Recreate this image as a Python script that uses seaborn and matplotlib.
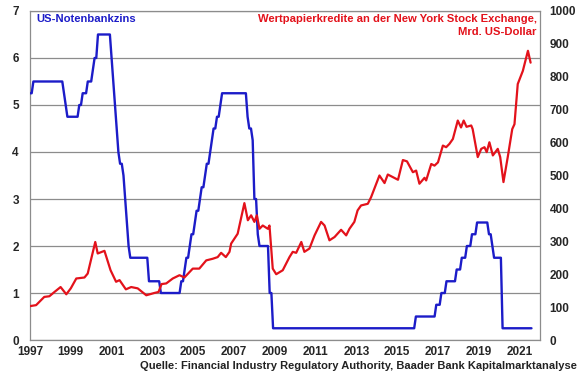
import numpy as np
import pandas as pd
import matplotlib
matplotlib.use("Agg")
import matplotlib.pyplot as plt
import seaborn as sns

# US Fed funds target (upper bound), month-end change points as decimal years
fed_dates = [1997.0, 1997.17, 1998.67, 1998.75, 1998.83, 1999.42, 1999.58, 1999.83,
             2000.08, 2000.17, 2000.33, 2001.0, 2001.08, 2001.17, 2001.25, 2001.33,
             2001.42, 2001.58, 2001.67, 2001.75, 2001.83, 2001.92, 2002.83, 2003.42,
             2004.42, 2004.58, 2004.67, 2004.83, 2004.92, 2005.08, 2005.17, 2005.33,
             2005.42, 2005.58, 2005.67, 2005.83, 2005.92, 2006.0, 2006.17, 2006.33,
             2006.42, 2007.67, 2007.75, 2007.92, 2008.0, 2008.17, 2008.25, 2008.75,
             2008.92, 2015.92, 2016.92, 2017.17, 2017.42, 2017.92, 2018.17, 2018.42,
             2018.67, 2018.92, 2019.5, 2019.67, 2019.75, 2020.17, 2021.58]
fed_rate = [5.25, 5.5, 5.25, 5.0, 4.75, 5.0, 5.25, 5.5,
            5.75, 6.0, 6.5, 6.0, 5.5, 5.0, 4.5, 4.0,
            3.75, 3.5, 3.0, 2.5, 2.0, 1.75, 1.25, 1.0,
            1.25, 1.5, 1.75, 2.0, 2.25, 2.5, 2.75, 3.0,
            3.25, 3.5, 3.75, 4.0, 4.25, 4.5, 4.75, 5.0,
            5.25, 4.75, 4.5, 4.25, 3.0, 2.25, 2.0, 1.0,
            0.25, 0.5, 0.75, 1.0, 1.25, 1.5, 1.75, 2.0,
            2.25, 2.5, 2.25, 2.0, 1.75, 0.25, 0.25]

# Margin debt at NYSE, bn USD
margin_dates = [1997.0, 1997.3, 1997.7, 1997.95, 1998.2, 1998.5, 1998.78, 1999.0,
                1999.27, 1999.67, 1999.83, 2000.2, 2000.32, 2000.65, 2000.95, 2001.22,
                2001.39, 2001.7, 2001.96, 2002.28, 2002.7, 2003.1, 2003.3, 2003.45,
                2003.68, 2004.0, 2004.33, 2004.57, 2004.98, 2005.3, 2005.64, 2005.96,
                2006.2, 2006.37, 2006.6, 2006.78, 2006.86, 2007.18, 2007.51, 2007.68,
                2007.84, 2008.0, 2008.12, 2008.25, 2008.41, 2008.66, 2008.74, 2008.9,
                2009.07, 2009.39, 2009.72, 2009.88, 2010.05, 2010.3, 2010.45, 2010.7,
                2010.95, 2011.27, 2011.44, 2011.68, 2011.93, 2012.25, 2012.5, 2012.66,
                2012.9, 2013.06, 2013.23, 2013.56, 2013.72, 2014.13, 2014.38, 2014.54,
                2014.79, 2015.04, 2015.28, 2015.48, 2015.77, 2015.93, 2016.09, 2016.34,
                2016.42, 2016.67, 2016.83, 2017.0, 2017.24, 2017.4, 2017.56, 2017.73,
                2017.97, 2018.13, 2018.26, 2018.4, 2018.63, 2018.7, 2018.95, 2019.12,
                2019.28, 2019.39, 2019.52, 2019.69, 2019.93, 2020.05, 2020.21, 2020.42,
                2020.64, 2020.75, 2020.91, 2021.16, 2021.41, 2021.54]
margin_debt = [103, 106, 131, 133, 146, 161, 139, 157,
               187, 190, 202, 298, 263, 271, 212, 177,
               182, 154, 161, 157, 136, 143, 146, 170,
               172, 187, 197, 190, 217, 217, 242, 247,
               252, 265, 252, 268, 293, 323, 416, 364,
               379, 359, 379, 338, 348, 338, 348, 217,
               200, 212, 252, 268, 265, 298, 268, 278,
               318, 359, 348, 303, 313, 335, 318, 338,
               359, 394, 409, 414, 434, 500, 477, 503,
               495, 487, 547, 543, 510, 515, 475, 493,
               485, 535, 530, 540, 591, 586, 596, 611,
               667, 646, 667, 648, 652, 641, 556, 581,
               586, 571, 601, 561, 581, 556, 480, 556,
               641, 656, 778, 818, 879, 843]

year_ticks = list(range(1997, 2022, 2))

# policy rate holds between changes -> monthly series
month_idx = np.rint((np.array(fed_dates) - 1997) * 12).astype(int)
fed_monthly = (pd.Series(fed_rate, index=month_idx)
               .groupby(level=0).last()
               .reindex(range(month_idx.max() + 1)).ffill())
fed = pd.DataFrame({'date': 1997 + fed_monthly.index / 12, 'rate': fed_monthly.values})

sns.set_style("white")
plt.rcParams['font.family'] = ['Liberation Sans', 'DejaVu Sans']
plt.rcParams['font.weight'] = 'bold'

blue = '#1c1cc8'
red = '#e3121b'
grey = '#8c8c8c'

fig = plt.figure(figsize=(5.8, 3.75), dpi=100)
ax = fig.add_axes([0.0517, 0.0933, 0.8793, 0.8774])

sns.lineplot(data=fed, x='date', y='rate', ax=ax, color=blue, linewidth=1.7,
             estimator=None, zorder=3)

ax.set_xlim(1997, 2022)
ax.set_ylim(0, 7)
ax.set_xticks(year_ticks)
ax.set_yticks(range(0, 8))
ax.yaxis.grid(True, color=grey, linewidth=0.9)
ax.xaxis.grid(False)
ax.set_xlabel('')
ax.set_ylabel('')
for s in ax.spines.values():
    s.set_color(grey)
    s.set_linewidth(0.9)
ax.tick_params(axis='x', direction='in', length=3, color=grey, labelsize=8.5, pad=4)
ax.tick_params(axis='y', length=0, labelsize=8.5, pad=8)

ax2 = ax.twinx()
margin = pd.DataFrame({'date': margin_dates, 'debt': margin_debt})
sns.lineplot(data=margin, x='date', y='debt', ax=ax2, color=red, linewidth=1.6,
             estimator=None)
ax2.set_ylim(0, 1000)
ax2.set_yticks(range(0, 1001, 100))
ax2.set_ylabel('')
ax2.tick_params(axis='y', length=0, labelsize=8.5, pad=7)
for s in ax2.spines.values():
    s.set_visible(False)

ax.text(0.013, 0.976, 'US-Notenbankzins', transform=ax.transAxes, color=blue,
        fontsize=8.1, fontweight='bold', ha='left', va='center')
ax.text(0.9935, 0.976, 'Wertpapierkredite an der New York Stock Exchange,',
        transform=ax.transAxes, color=red, fontsize=8.1, fontweight='bold',
        ha='right', va='center')
ax.text(0.9935, 0.936, 'Mrd. US-Dollar', transform=ax.transAxes, color=red,
        fontsize=8.1, fontweight='bold', ha='right', va='center')
fig.text(0.995, 0.025, 'Quelle: Financial Industry Regulatory Authority, Baader Bank Kapitalmarktanalyse',
         color='#222222', fontsize=8.0, fontweight='bold', ha='right', va='center')

fig.savefig('out.png', dpi=100)
